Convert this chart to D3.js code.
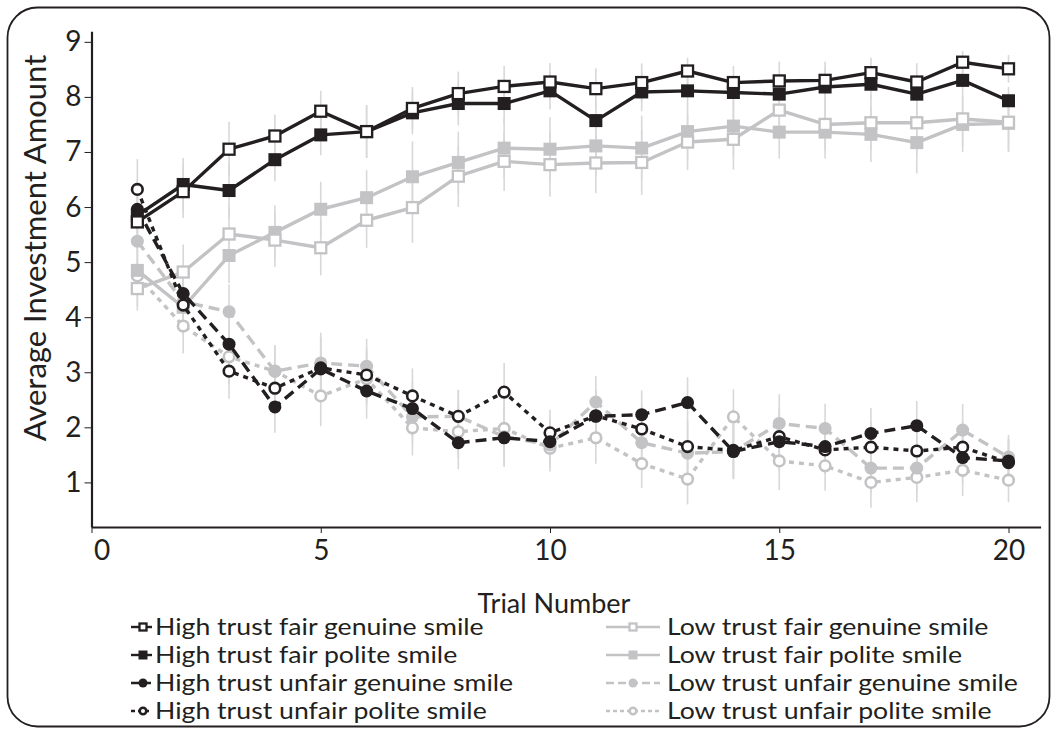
<!DOCTYPE html>
<html>
<head>
<meta charset="utf-8">
<script src="https://cdn.jsdelivr.net/npm/d3@7"></script>
<style>
  body { margin: 0; background: #fff; }
  text { font-family: Lato, "Open Sans", sans-serif; fill: #231f20; }
</style>
</head>
<body>
<svg id="chart" width="1057" height="732"></svg>
<script>
// Trial numbers along the x axis
const trials = [1, 2, 3, 4, 5, 6, 7, 8, 9, 10, 11, 12, 13, 14, 15, 16, 17, 18, 19, 20];

// Mean investment per trial, one list per condition
const highFairGenuine   = [5.73, 6.28, 7.05, 7.29, 7.74, 7.37, 7.79, 8.06, 8.19, 8.27, 8.15, 8.26, 8.47, 8.26, 8.29, 8.30, 8.44, 8.27, 8.63, 8.51];
const highFairPolite    = [5.85, 6.41, 6.30, 6.86, 7.31, 7.37, 7.71, 7.88, 7.88, 8.11, 7.57, 8.09, 8.11, 8.08, 8.05, 8.18, 8.23, 8.05, 8.30, 7.93];
const highUnfairGenuine = [5.96, 4.43, 3.51, 2.37, 3.06, 2.66, 2.34, 1.72, 1.81, 1.74, 2.20, 2.23, 2.45, 1.56, 1.74, 1.65, 1.89, 2.03, 1.45, 1.39];
const highUnfairPolite  = [6.32, 4.22, 3.02, 2.71, 3.08, 2.95, 2.57, 2.20, 2.64, 1.90, 2.21, 1.97, 1.65, 1.58, 1.83, 1.59, 1.64, 1.57, 1.64, 1.36];
const lowFairGenuine    = [4.52, 4.82, 5.51, 5.40, 5.26, 5.76, 5.99, 6.56, 6.83, 6.77, 6.80, 6.81, 7.18, 7.23, 7.76, 7.50, 7.53, 7.53, 7.60, 7.54];
const lowFairPolite     = [4.85, 4.18, 5.12, 5.54, 5.96, 6.17, 6.55, 6.81, 7.07, 7.05, 7.11, 7.07, 7.37, 7.47, 7.36, 7.36, 7.32, 7.17, 7.50, 7.52];
const lowUnfairGenuine  = [5.38, 4.28, 4.10, 3.02, 3.17, 3.11, 2.19, 2.20, 1.83, 1.68, 2.46, 1.72, 1.53, 1.56, 2.07, 1.98, 1.26, 1.26, 1.95, 1.46];
const lowUnfairPolite   = [4.75, 3.84, 3.28, 3.02, 2.57, 2.88, 1.99, 1.92, 1.98, 1.62, 1.81, 1.34, 1.06, 2.19, 1.39, 1.30, 1.00, 1.09, 1.22, 1.04];

// Standard errors (half-length of the error bars) per trial
const seHighFair = [0.45, 0.48, 0.50, 0.39, 0.37, 0.48, 0.39, 0.40, 0.37, 0.34, 0.37, 0.35, 0.24, 0.30, 0.35, 0.34, 0.27, 0.34, 0.20, 0.25];
const seLowFair  = [0.40, 0.50, 0.50, 0.49, 0.50, 0.50, 0.64, 0.56, 0.54, 0.58, 0.55, 0.59, 0.51, 0.55, 0.48, 0.48, 0.50, 0.56, 0.50, 0.52];
const seUnfair   = [0.55, 0.50, 0.50, 0.47, 0.55, 0.50, 0.50, 0.48, 0.53, 0.42, 0.47, 0.44, 0.46, 0.50, 0.53, 0.45, 0.46, 0.45, 0.47, 0.40];

// Axis ticks
const xTicks = [0, 5, 10, 15, 20];
const yTicks = [1, 2, 3, 4, 5, 6, 7, 8, 9];

const DARK = "#231f20";
const GRAY = "#c3c3c5";
const BAR = "#d8d8da";

const series = [
  { name: "High trust fair genuine smile",   values: highFairGenuine,   se: seHighFair, color: DARK, dash: null,    marker: "squareOpen" },
  { name: "High trust fair polite smile",    values: highFairPolite,    se: seHighFair, color: DARK, dash: null,    marker: "squareFilled" },
  { name: "High trust unfair genuine smile", values: highUnfairGenuine, se: seUnfair,   color: DARK, dash: "11,6",  marker: "circleFilled" },
  { name: "High trust unfair polite smile",  values: highUnfairPolite,  se: seUnfair,   color: DARK, dash: "5,5",   marker: "circleOpen" },
  { name: "Low trust fair genuine smile",    values: lowFairGenuine,    se: seLowFair,  color: GRAY, dash: null,    marker: "squareOpen" },
  { name: "Low trust fair polite smile",     values: lowFairPolite,     se: seLowFair,  color: GRAY, dash: null,    marker: "squareFilled" },
  { name: "Low trust unfair genuine smile",  values: lowUnfairGenuine,  se: seUnfair,   color: GRAY, dash: "11,6",  marker: "circleFilled" },
  { name: "Low trust unfair polite smile",   values: lowUnfairPolite,   se: seUnfair,   color: GRAY, dash: "5,5",   marker: "circleOpen" }
];

const svg = d3.select("#chart");

// Rounded outer frame
svg.append("rect")
  .attr("x", 7.5).attr("y", 7.5)
  .attr("width", 1042).attr("height", 719)
  .attr("rx", 30).attr("ry", 30)
  .attr("fill", "none").attr("stroke", DARK).attr("stroke-width", 1.8);

const unit = 45.85;
const x = d3.scaleLinear().domain([0, 20.7]).range([91.5, 91.5 + 20.7 * unit]);
const y = d3.scaleLinear().domain([0.19, 9.19]).range([527, 527 - 9 * 55.07]);

// Error bars sit beneath everything else
const gBars = svg.append("g");
series.forEach(s => {
  gBars.selectAll(null)
    .data(trials)
    .join("line")
    .attr("x1", (t) => x(t)).attr("x2", (t) => x(t))
    .attr("y1", (t, i) => y(s.values[i] + s.se[i]))
    .attr("y2", (t, i) => y(s.values[i] - s.se[i]))
    .attr("stroke", BAR).attr("stroke-width", 1.6);
});

// Axes
const xAxis = svg.append("g")
  .attr("transform", `translate(0,${y.range()[0]})`)
  .call(d3.axisBottom(x).tickValues(xTicks).tickSize(6).tickSizeOuter(0).tickPadding(3));
const yAxis = svg.append("g")
  .attr("transform", `translate(${x.range()[0]},0)`)
  .call(d3.axisLeft(y).tickValues(yTicks).tickSize(7).tickSizeOuter(0).tickPadding(3));

[xAxis, yAxis].forEach(g => {
  g.select(".domain").attr("stroke", DARK).attr("stroke-width", 2.2);
  g.selectAll(".tick line").attr("stroke", DARK).attr("stroke-width", 1);
  g.selectAll(".tick text").attr("font-size", 28).attr("fill", DARK)
    .style("font-family", "Lato, 'Open Sans', sans-serif");
});
xAxis.selectAll(".tick text").attr("dy", "0.85em");
xAxis.selectAll(".tick").filter(d => d === 0).select("text").attr("dx", 10);

// Axis titles
svg.append("text")
  .attr("x", 554).attr("y", 613)
  .attr("text-anchor", "middle").attr("font-size", 27)
  .text("Trial Number");
svg.append("text")
  .attr("transform", "translate(46,248) rotate(-90)")
  .attr("text-anchor", "middle").attr("font-size", 31)
  .text("Average Investment Amount");

// Marker drawing helper
function drawMarker(sel, type, color, size) {
  const half = size / 2;
  if (type === "squareOpen") {
    sel.append("rect").attr("x", -half + 1).attr("y", -half + 1)
      .attr("width", size - 2).attr("height", size - 2)
      .attr("fill", "#fff").attr("stroke", color).attr("stroke-width", 2.3);
  } else if (type === "squareFilled") {
    sel.append("rect").attr("x", -half).attr("y", -half)
      .attr("width", size).attr("height", size)
      .attr("fill", color);
  } else if (type === "circleFilled") {
    sel.append("circle").attr("r", half).attr("fill", color);
  } else {
    sel.append("circle").attr("r", half - 1.2)
      .attr("fill", "#fff").attr("stroke", color).attr("stroke-width", 2.6);
  }
}

const line = d3.line().x(d => x(d.t)).y(d => y(d.v));

// Gray series drawn first, dark series on top
const order = [7, 6, 5, 4, 3, 2, 1, 0];
order.forEach(k => {
  const s = series[k];
  const pts = trials.map((t, i) => ({ t, v: s.values[i] }));
  const g = svg.append("g");
  g.append("path")
    .attr("d", line(pts))
    .attr("fill", "none")
    .attr("stroke", s.color)
    .attr("stroke-width", 3.4)
    .attr("stroke-dasharray", s.dash)
    .attr("stroke-linejoin", "round");
  g.selectAll("g.pt")
    .data(pts)
    .join("g")
    .attr("class", "pt")
    .attr("transform", d => `translate(${x(d.t)},${y(d.v)})`)
    .each(function () { drawMarker(d3.select(this), s.marker, s.color, 13); });
});

// Legend: two columns of four rows, wide-set lettering
const legendRows = [627, 655, 683, 711];
const legendCols = [
  { x1: 131, x2: 152, mx: 143, tx: 155 },
  { x1: 606, x2: 660, mx: 633, tx: 667 }
];
series.forEach((s, i) => {
  const col = legendCols[Math.floor(i / 4)];
  const yy = legendRows[i % 4];
  const g = svg.append("g");
  g.append("line")
    .attr("x1", col.x1).attr("x2", col.x2).attr("y1", yy).attr("y2", yy)
    .attr("stroke", s.color).attr("stroke-width", 2.4)
    .attr("stroke-dasharray", s.dash ? (s.dash === "5,5" ? "4,3" : "8,4") : null);
  const m = g.append("g").attr("transform", `translate(${col.mx},${yy})`);
  drawMarker(m, s.marker, s.color, 9);
  const t = g.append("text")
    .attr("x", col.tx).attr("y", yy)
    .attr("dy", "0.35em").attr("font-size", 24)
    .text(s.name);
  const w = t.node().getComputedTextLength();
  t.attr("textLength", w * 1.11).attr("lengthAdjust", "spacingAndGlyphs");
});
</script>
</body>
</html>
